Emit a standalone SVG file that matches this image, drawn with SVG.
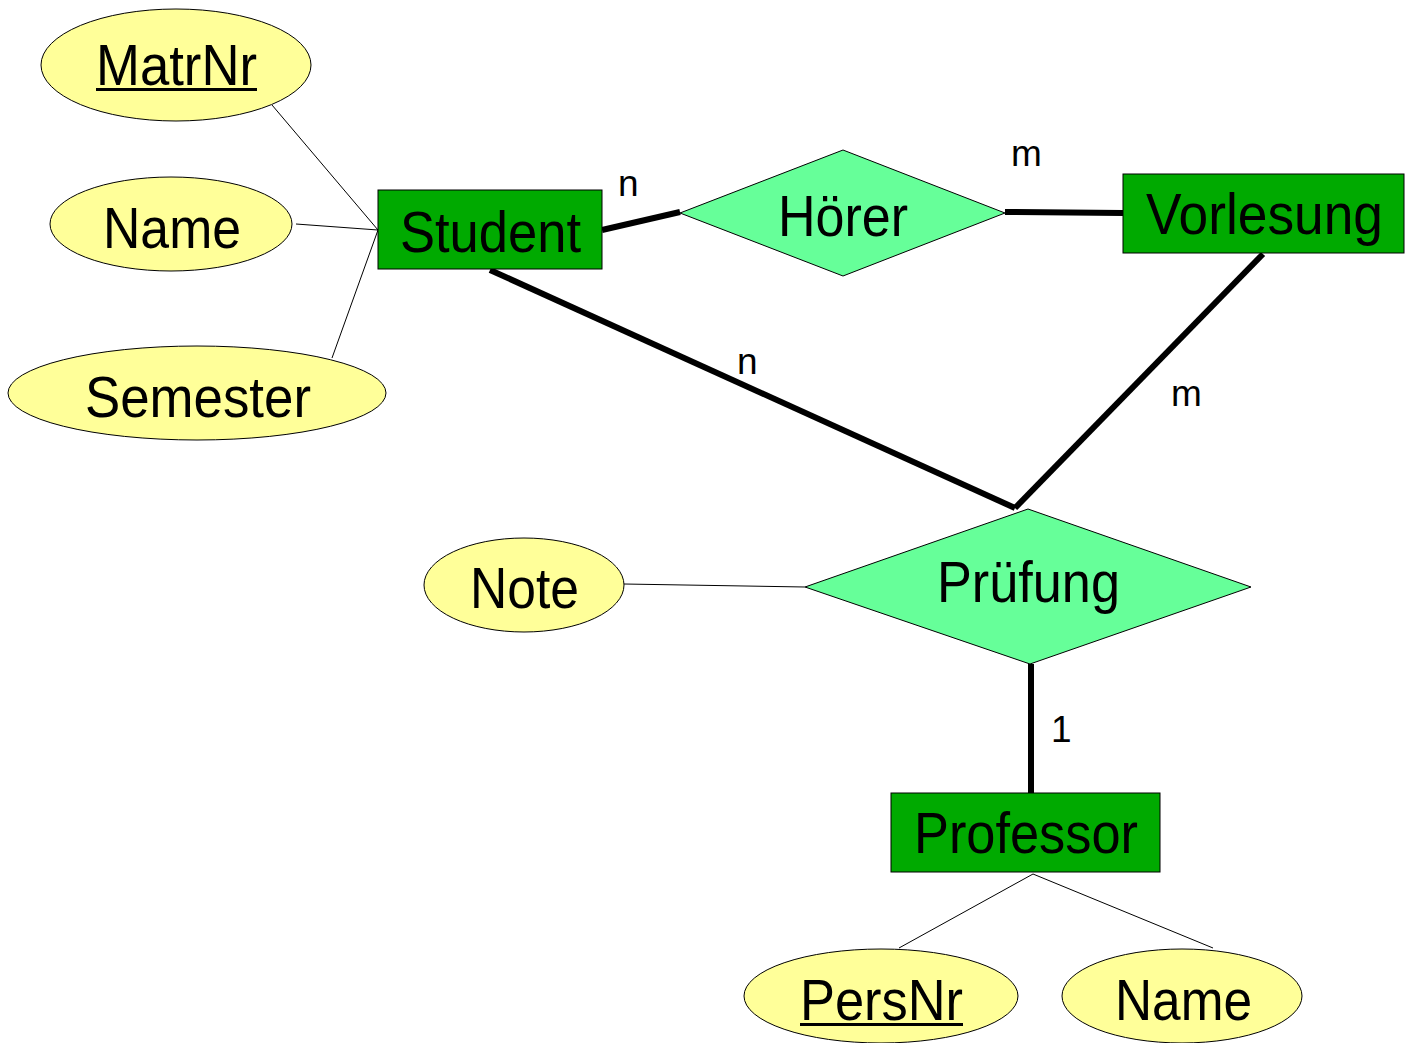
<svg xmlns="http://www.w3.org/2000/svg" width="1412" height="1043" viewBox="0 0 1412 1043">
<style>
.attr{fill:#FFFF99;stroke:#000;stroke-width:1}
.ent{fill:#00AA00;stroke:#000;stroke-width:1}
.rel{fill:#66FF99;stroke:#000;stroke-width:1}
.thin{stroke:#000;stroke-width:1;fill:none}
.thick{stroke:#000;stroke-width:6;fill:none}
text{font-family:"Liberation Sans",Arial,sans-serif;fill:#000}
.big{font-size:58px}
.lbl{font-size:37px}
</style>
<rect width="1412" height="1043" fill="#fff"/>
<g id="connectors">
<line class="thin" x1="272" y1="105" x2="378" y2="230"/>
<line class="thin" x1="296" y1="224" x2="378" y2="230"/>
<line class="thin" x1="332" y1="358" x2="378" y2="230"/>
<line class="thick" x1="602" y1="230" x2="680" y2="212"/>
<line class="thick" x1="1005" y1="212" x2="1123" y2="213"/>
<line class="thick" x1="490" y1="270" x2="1015" y2="508"/>
<line class="thick" x1="1263" y1="254" x2="1015" y2="508"/>
<line class="thick" x1="1031" y1="664" x2="1031" y2="793"/>
<line class="thin" x1="624" y1="584" x2="805" y2="587"/>
<line class="thin" x1="1033" y1="874" x2="899" y2="948"/>
<line class="thin" x1="1033" y1="874" x2="1213" y2="948"/>
<text class="lbl" x="618" y="196">n</text>
<text class="lbl" x="1011" y="166">m</text>
<text class="lbl" x="737" y="374">n</text>
<text class="lbl" x="1171" y="406">m</text>
<text class="lbl" x="1051" y="742">1</text>
</g>
<g id="MatrNr">
<ellipse class="attr" cx="176" cy="65" rx="135" ry="56"/>
<text class="big" x="96" y="85" textLength="161" lengthAdjust="spacingAndGlyphs">MatrNr</text>
<rect x="96" y="88" width="161" height="3" fill="#000"/>
</g>
<g id="Name1">
<ellipse class="attr" cx="171" cy="224" rx="121" ry="47"/>
<text class="big" x="103" y="248" textLength="138" lengthAdjust="spacingAndGlyphs">Name</text>
</g>
<g id="Semester">
<ellipse class="attr" cx="197" cy="393" rx="189" ry="47"/>
<text class="big" x="85" y="417" textLength="226" lengthAdjust="spacingAndGlyphs">Semester</text>
</g>
<g id="Student">
<rect class="ent" x="378" y="190" width="224" height="79"/>
<text class="big" x="400" y="252" textLength="181" lengthAdjust="spacingAndGlyphs">Student</text>
</g>
<g id="Hoerer">
<polygon class="rel" points="680,213 843,150 1005,213 843,276"/>
<text class="big" x="778" y="236" textLength="130" lengthAdjust="spacingAndGlyphs">Hörer</text>
</g>
<g id="Vorlesung">
<rect class="ent" x="1123" y="174" width="281" height="79"/>
<text class="big" x="1146" y="234" textLength="237" lengthAdjust="spacingAndGlyphs">Vorlesung</text>
</g>
<g id="Pruefung">
<polygon class="rel" points="805,587 1028,509 1251,587 1030,664"/>
<text class="big" x="937" y="602" textLength="183" lengthAdjust="spacingAndGlyphs">Prüfung</text>
</g>
<g id="Note">
<ellipse class="attr" cx="524" cy="585" rx="100" ry="47"/>
<text class="big" x="470" y="608" textLength="109" lengthAdjust="spacingAndGlyphs">Note</text>
</g>
<g id="Professor">
<rect class="ent" x="891" y="793" width="269" height="79"/>
<text class="big" x="914" y="853" textLength="224" lengthAdjust="spacingAndGlyphs">Professor</text>
</g>
<g id="PersNr">
<ellipse class="attr" cx="881" cy="996" rx="137" ry="47"/>
<text class="big" x="800" y="1020" textLength="163" lengthAdjust="spacingAndGlyphs">PersNr</text>
<rect x="800" y="1023" width="163" height="3" fill="#000"/>
</g>
<g id="Name2">
<ellipse class="attr" cx="1182" cy="996" rx="120" ry="47"/>
<text class="big" x="1115" y="1020" textLength="137" lengthAdjust="spacingAndGlyphs">Name</text>
</g>
</svg>
